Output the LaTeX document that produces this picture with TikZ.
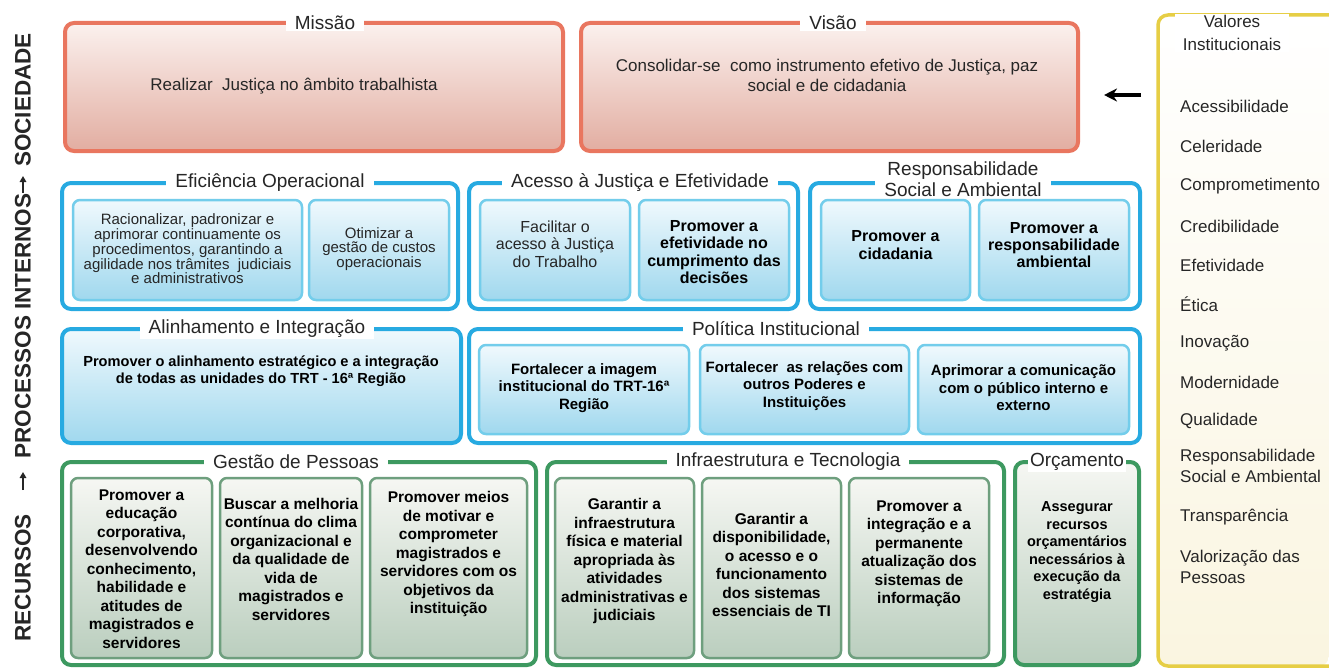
\documentclass[tikz,border=0pt]{standalone}
\usepackage{fontspec}
\setmainfont{Liberation Sans}
\usetikzlibrary{arrows.meta}
\definecolor{txtc}{HTML}{262626}
\definecolor{redline}{HTML}{E9765F}
\definecolor{redtop}{HTML}{FBF1EE}
\definecolor{redbot}{HTML}{E2ADA1}
\definecolor{blueline}{HTML}{27AAE1}
\definecolor{bluein}{HTML}{73CDEB}
\definecolor{bluetop}{HTML}{F0F9FD}
\definecolor{bluebot}{HTML}{A0D8EE}
\definecolor{greenline}{HTML}{3D9960}
\definecolor{greenin}{HTML}{6E9F7E}
\definecolor{greentop}{HTML}{F6F7F3}
\definecolor{greenbot}{HTML}{BACEBE}
\definecolor{yel}{HTML}{E6CE45}
\definecolor{valbot}{HTML}{FAF5E0}
\newcommand\mkbox[6]{%
  \pgfmathsetmacro\bcx{(#3+#5)/2}%
  \pgfmathsetmacro\bcy{(#4+#6)/2}%
  \pgfmathsetmacro\bw{#5-#3}%
  \pgfmathsetmacro\bh{#6-#4}%
  \node[#1,minimum width=\bw pt,minimum height=\bh pt] (#2) at (\bcx,\bcy) {};}
\begin{document}
\begin{tikzpicture}[x=1pt,y=-1pt,
  redbox/.style={draw=redline,line width=4pt,rounded corners=9pt,top color=redtop,bottom color=redbot,inner sep=0pt},
  bluebox/.style={draw=blueline,line width=4pt,rounded corners=9pt,fill=white,inner sep=0pt},
  bluefill/.style={draw=blueline,line width=4pt,rounded corners=9pt,top color=bluetop,bottom color=bluebot,inner sep=0pt},
  blueinner/.style={draw=bluein,line width=2.5pt,rounded corners=7pt,top color=bluetop,bottom color=bluebot,inner sep=0pt},
  greenbox/.style={draw=greenline,line width=4pt,rounded corners=9pt,fill=white,inner sep=0pt},
  greenfill/.style={draw=greenline,line width=4pt,rounded corners=9pt,top color=greentop,bottom color=greenbot,inner sep=0pt},
  greeninner/.style={draw=greenin,line width=2.5pt,rounded corners=7pt,top color=greentop,bottom color=greenbot,inner sep=0pt},
  ttl/.style={fill=white,inner xsep=9pt,inner ysep=1pt,text=txtc,align=center,font=\fontsize{19}{21}\selectfont},
  mt/.style={text=txtc,align=center,font=\fontsize{17}{20}\selectfont},
  rt/.style={text=txtc,align=center,font=\fontsize{15}{14.8}\selectfont},
  rtb/.style={text=txtc,align=center,font=\fontsize{16}{17.3}\selectfont},
  bt/.style={text=black,align=center,font=\bfseries\fontsize{16}{17.3}\selectfont},
  btp/.style={text=black,align=center,font=\bfseries\fontsize{15}{17.5}\selectfont},
  btg/.style={text=black,align=center,font=\bfseries\fontsize{15.5}{18.5}\selectfont},
  bto/.style={text=black,align=center,font=\bfseries\fontsize{14.5}{17.5}\selectfont},
  val/.style={text=txtc,anchor=west,align=left,font=\fontsize{17}{20.5}\selectfont,inner sep=0pt},
  lbl/.style={text=txtc,rotate=90,font=\bfseries\fontsize{22.5}{24}\selectfont}]
\useasboundingbox (0,0) rectangle (1329,669);

% ---------- Valores Institucionais panel ----------
\path[top color=white,bottom color=valbot,rounded corners=10pt] (1329,15) -- (1158,15) -- (1158,666) -- (1329,666) -- cycle;
\draw[yel,line width=3.5pt,rounded corners=10pt] (1329,15) -- (1158,15) -- (1158,666) -- (1329,666);
\node[ttl,font=\fontsize{17}{23}\selectfont,inner xsep=8pt] (valT) at (1232,33) {Valores\\Institucionais};
\node[val] (v1) at (1180,106) {Acessibilidade};
\node[val] (v2) at (1180,146) {Celeridade};
\node[val] (v3) at (1180,186) {Comprometimento};
\node[val] (v4) at (1180,226) {Credibilidade};
\node[val] (v5) at (1180,265) {Efetividade};
\node[val] (v6) at (1180,304) {Ética};
\node[val] (v7) at (1180,343) {Inovação};
\node[val] (v8) at (1180,382) {Modernidade};
\node[val] (v9) at (1180,421) {Qualidade};
\node[val] (v10) at (1180,466) {Responsabilidade\\Social e Ambiental};
\node[val] (v11) at (1180,517) {Transparência};
\node[val] (v12) at (1180,567) {Valorização das\\Pessoas};

% ---------- left label ----------
\node[lbl] (soc) at (23,100) {SOCIEDADE};
\node[lbl] (proc) at (23,326) {PROCESSOS INTERNOS};
\node[lbl] (rec) at (23,578) {RECURSOS};
\coordinate (l1s) at (23,193);
\coordinate (l1e) at (23,176);
\coordinate (l2s) at (23,490);
\coordinate (l2e) at (23,472);
\draw[txtc,line width=1.8pt,-{Triangle[length=6pt,width=6.5pt]}] (l1s) -- (l1e);
\draw[txtc,line width=1.8pt,-{Triangle[length=6pt,width=6.5pt]}] (l2s) -- (l2e);

% ---------- row 1 ----------
\mkbox{redbox}{mis}{65}{23}{563}{151}
\mkbox{redbox}{vis}{581}{23}{1078}{151}
\node[ttl] (misT) at (325,23) {Missão};
\node[ttl] (visT) at (833,23) {Visão};
\node[mt] (misX) at (294,86) {Realizar\ \ Justiça no âmbito trabalhista};
\node[mt] (visX) at (827,75) {Consolidar-se\ \ como instrumento efetivo de Justiça, paz\\social e de cidadania};
\coordinate (arS) at (1141,95);
\coordinate (arE) at (1104,95);
\draw[black,line width=3.2pt,-{Stealth[length=13pt,width=13pt]}] (arS) -- (arE);

% ---------- row 2 ----------
\mkbox{bluebox}{eff}{62}{183}{458}{309}
\mkbox{bluebox}{ace}{469}{183}{798}{309}
\mkbox{bluebox}{res}{810}{183}{1140}{309}
\mkbox{blueinner}{e1}{73}{200}{302}{300}
\mkbox{blueinner}{e2}{309}{200}{449}{300}
\mkbox{blueinner}{a1}{480}{200}{630}{300}
\mkbox{blueinner}{a2}{639}{200}{789}{300}
\mkbox{blueinner}{r1}{821}{200}{970}{300}
\mkbox{blueinner}{r2}{979}{200}{1129}{300}
\node[ttl] (effT) at (270,183) {Eficiência Operacional};
\node[ttl] (aceT) at (640,183) {Acesso à Justiça e Efetividade};
\node[ttl] (resT) at (963,179) {Responsabilidade\\Social e Ambiental};
\node[rt] (e1X) at (187.5,249) {Racionalizar, padronizar e\\aprimorar continuamente os\\procedimentos, garantindo a\\agilidade nos trâmites\ \ judiciais\\e administrativos};
\node[rt] (e2X) at (379,249) {Otimizar a\\gestão de custos\\operacionais};
\node[rtb] (a1X) at (555,244) {Facilitar o\\acesso à Justiça\\do Trabalho};
\node[bt] (a2X) at (714,252) {Promover a\\efetividade no\\cumprimento das\\decisões};
\node[bt] (r1X) at (895.5,245) {Promover a\\cidadania};
\node[bt] (r2X) at (1054,245) {Promover a\\responsabilidade\\ambiental};

% ---------- row 3 ----------
\mkbox{bluefill}{ali}{62}{329}{461}{443}
\mkbox{bluebox}{pol}{469}{329}{1140}{443}
\mkbox{blueinner}{p1}{479}{345}{689}{434}
\mkbox{blueinner}{p2}{700}{345}{909}{434}
\mkbox{blueinner}{p3}{918}{345}{1129}{434}
\node[ttl] (aliT) at (257,329) {Alinhamento e Integração};
\node[ttl] (polT) at (776,329) {Política Institucional};
\node[bt,font=\bfseries\fontsize{14.6}{17.5}\selectfont] (aliX) at (261,371) {Promover o alinhamento estratégico e a integração\\de todas as unidades do TRT - 16ª Região};
\node[btp] (p1X) at (584,388) {Fortalecer a imagem\\institucional do TRT-16ª\\Região};
\node[btp] (p2X) at (804.5,386) {Fortalecer\ \ as relações com\\outros Poderes e\\Instituições};
\node[btp] (p3X) at (1023.5,388) {Aprimorar a comunicação\\com o público interno e\\externo};

% ---------- row 4 ----------
\mkbox{greenbox}{ges}{62}{462}{536}{665}
\mkbox{greenbox}{inf}{547}{462}{1004}{665}
\mkbox{greenfill}{orc}{1015}{462}{1139}{665}
\mkbox{greeninner}{g1}{71}{478}{212}{658}
\mkbox{greeninner}{g2}{220}{478}{362}{658}
\mkbox{greeninner}{g3}{370}{478}{527}{658}
\mkbox{greeninner}{i1}{555}{478}{694}{658}
\mkbox{greeninner}{i2}{702}{478}{841}{658}
\mkbox{greeninner}{i3}{849}{478}{989}{658}
\node[ttl] (gesT) at (296,462) {Gestão de Pessoas};
\node[ttl] (infT) at (788,462) {Infraestrutura e Tecnologia};
\node[ttl,inner xsep=2pt] (orcT) at (1077,462) {Orçamento};
\node[btg] (g1X) at (141.5,569) {Promover a\\educação\\corporativa,\\desenvolvendo\\conhecimento,\\habilidade e\\atitudes de\\magistrados e\\servidores};
\node[btg] (g2X) at (291,559) {Buscar a melhoria\\contínua do clima\\organizacional e\\da qualidade de\\vida de\\magistrados e\\servidores};
\node[btg] (g3X) at (448.5,554) {Promover meios\\de motivar e\\comprometer\\magistrados e\\servidores com os\\objetivos da\\instituição};
\node[btg] (i1X) at (624.5,561) {Garantir a\\infraestrutura\\física e material\\apropriada às\\atividades\\administrativas e\\judiciais};
\node[btg] (i2X) at (771.5,565) {Garantir a\\disponibilidade,\\o acesso e o\\funcionamento\\dos sistemas\\essenciais de TI};
\node[btg] (i3X) at (919,554) {Promover a\\integração e a\\permanente\\atualização dos\\sistemas de\\informação};
\node[bto] (orcX) at (1077,552) {Assegurar\\recursos\\orçamentários\\necessários à\\execução da\\estratégia};
\end{tikzpicture}
\end{document}
